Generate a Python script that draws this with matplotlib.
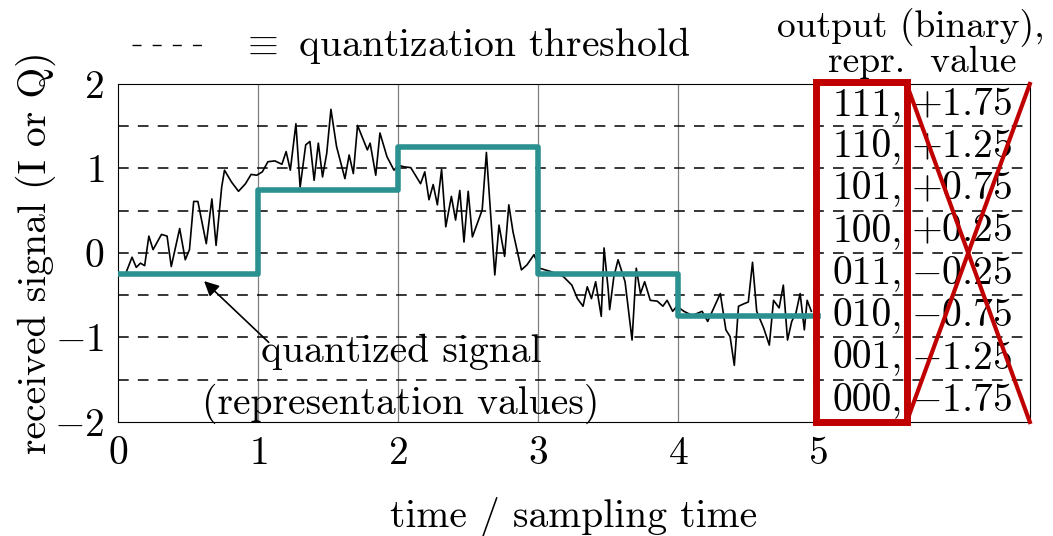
import numpy as np
import matplotlib
matplotlib.use("Agg")
import matplotlib.pyplot as plt

plt.rcParams["font.family"] = "serif"
plt.rcParams["font.serif"] = ["cmr10"]
plt.rcParams["mathtext.fontset"] = "cm"
plt.rcParams["axes.formatter.use_mathtext"] = True

# sinal recebido
t_sig = [0.06, 0.10, 0.13, 0.16, 0.19, 0.22, 0.25, 0.31, 0.35, 0.38, 0.44, 0.48, 0.51, 0.54,
         0.57, 0.63, 0.67, 0.70, 0.74, 0.76, 0.81, 0.86, 0.91, 0.95, 0.99, 1.03, 1.07, 1.12,
         1.17, 1.20, 1.23, 1.27, 1.30, 1.34, 1.37, 1.40, 1.43, 1.46, 1.49, 1.52, 1.56, 1.62,
         1.65, 1.68, 1.71, 1.78, 1.80, 1.84, 1.87, 1.92, 1.97, 2.00, 2.04, 2.09, 2.16, 2.19,
         2.22, 2.25, 2.28, 2.31, 2.34, 2.38, 2.41, 2.44, 2.47, 2.50, 2.53, 2.60, 2.63, 2.69,
         2.72, 2.76, 2.79, 2.82, 2.88, 2.92, 2.97, 3.01, 3.09, 3.18, 3.24, 3.28, 3.32, 3.35,
         3.38, 3.41, 3.45, 3.47, 3.50, 3.51, 3.54, 3.57, 3.62, 3.67, 3.70, 3.73, 3.76, 3.80,
         3.85, 3.89, 3.92, 3.96, 3.99, 4.04, 4.10, 4.17, 4.21, 4.30, 4.34, 4.37, 4.40, 4.43,
         4.47, 4.50, 4.53, 4.56, 4.61, 4.65, 4.68, 4.72, 4.75, 4.78, 4.81, 4.84, 4.87, 4.90,
         4.92, 4.95]
y_sig = [-0.22, -0.05, -0.17, -0.12, -0.15, 0.20, 0.04, 0.22, 0.20, -0.16, 0.29, -0.08, 0.04, 0.61,
         0.61, 0.11, 0.64, 0.09, 0.78, 0.98, 0.84, 0.73, 0.82, 0.93, 0.92, 0.96, 1.08, 1.09,
         1.05, 1.20, 0.98, 1.53, 0.78, 1.28, 1.32, 0.86, 1.30, 0.90, 1.18, 1.70, 1.26, 0.88,
         1.16, 0.94, 1.51, 1.22, 1.30, 0.92, 1.42, 1.14, 0.98, 1.04, 1.02, 1.01, 0.82, 0.96,
         0.63, 0.81, 0.57, 0.99, 0.31, 0.67, 0.39, 0.74, 0.13, 0.73, 0.19, 0.51, 1.19, -0.26,
         0.33, -0.04, 0.57, 0.25, -0.20, -0.14, -0.02, -0.18, -0.22, -0.28, -0.38, -0.54, -0.63, -0.40,
         -0.54, -0.34, -0.75, 0.06, -0.44, -0.67, -0.28, -0.08, -0.34, -1.03, -0.18, -0.48, -0.34, -0.56,
         -0.57, -0.63, -0.56, -0.69, -0.63, -0.69, -0.74, -0.69, -0.81, -0.48, -0.91, -0.99, -1.33, -0.63,
         -0.60, -0.58, -0.11, -0.69, -0.89, -1.09, -0.56, -0.65, -0.38, -1.03, -0.81, -0.71, -0.48, -0.91,
         -0.56, -0.69]

# sinal quantizado
step_edges = [0, 1, 2, 3, 4, 5]
step_values = [-0.25, 0.75, 1.25, -0.25, -0.75]

# limiares de quantização e tabela
thresholds = [-1.5, -1.0, -0.5, 0.0, 0.5, 1.0, 1.5]
codes = ["111,", "110,", "101,", "100,", "011,", "010,", "001,", "000,"]
repr_values = [1.75, 1.25, 0.75, 0.25, -0.25, -0.75, -1.25, -1.75]

fs = 28.5
teal = "#2b9090"
red = "#c00000"

fig = plt.figure(figsize=(10.53, 5.36), dpi=100)
ax = fig.add_axes([0.1121, 0.2127, 0.8659, 0.6306])
ax.set_xlim(0, 6.51)
ax.set_ylim(-2, 2)

for x in range(1, 6):
    ax.axvline(x, color="#808080", lw=0.9, zorder=1)
for th in thresholds:
    ax.axhline(th, color="black", lw=1.1, ls=(0, (7, 6)), zorder=1)

ax.plot(t_sig, y_sig, color="black", lw=1.2, zorder=3)
ax.step(step_edges, step_values + [step_values[-1]], where="post", color=teal, lw=4, zorder=4)

ax.set_xticks(range(6))
ax.set_yticks([-2, -1, 0, 1, 2])
ax.set_yticklabels([r"$-2$", r"$-1$", r"$0$", r"$1$", r"$2$"])
ax.set_xticklabels([r"$%d$" % i for i in range(6)])
ax.tick_params(length=0, labelsize=fs, pad=10)
ax.set_xlabel("time / sampling time", fontsize=fs, labelpad=18)
ax.set_ylabel("received signal (I or Q)", fontsize=fs, labelpad=-2)

# tabela de saída
for code, val in zip(codes, repr_values):
    ax.text(5.6, val, code, fontsize=fs, ha="right", va="center", zorder=5)
    ax.text(5.66, val, r"$%+.2f$" % val, fontsize=fs, ha="left", va="center", zorder=5)

ax.plot([4.98, 4.98, 5.63, 5.63, 4.98], [-2, 2.02, 2.02, -2, -2], color=red, lw=5,
        clip_on=False, zorder=6, solid_joinstyle="miter")
ax.plot([5.63, 6.51], [2, -2], color=red, lw=3, clip_on=False, zorder=6)
ax.plot([6.51, 5.63], [2, -2], color=red, lw=3, clip_on=False, zorder=6)

ax.text(5.66, 2.67, "output (binary),", fontsize=27, ha="center", va="center")
ax.text(5.74, 2.25, "repr.  value", fontsize=27, ha="center", va="center")

# legenda
ax.plot([0.1, 0.6], [2.46, 2.46], color="black", lw=1.0, ls=(0, (6.5, 8)), clip_on=False)
ax.text(0.88, 2.46, r"$\equiv$ quantization threshold", fontsize=fs, ha="left", va="center")

# anotação
ax.annotate("", xy=(0.6, -0.31), xytext=(1.09, -1.08),
            arrowprops=dict(arrowstyle="-|>", color="black", lw=1.2, mutation_scale=22))
ax.text(2.02, -1.17, "quantized signal", fontsize=fs, ha="center", va="center", zorder=5)
ax.text(2.02, -1.79, "(representation values)", fontsize=fs, ha="center", va="center", zorder=5)

fig.savefig("out.png", dpi=100)
